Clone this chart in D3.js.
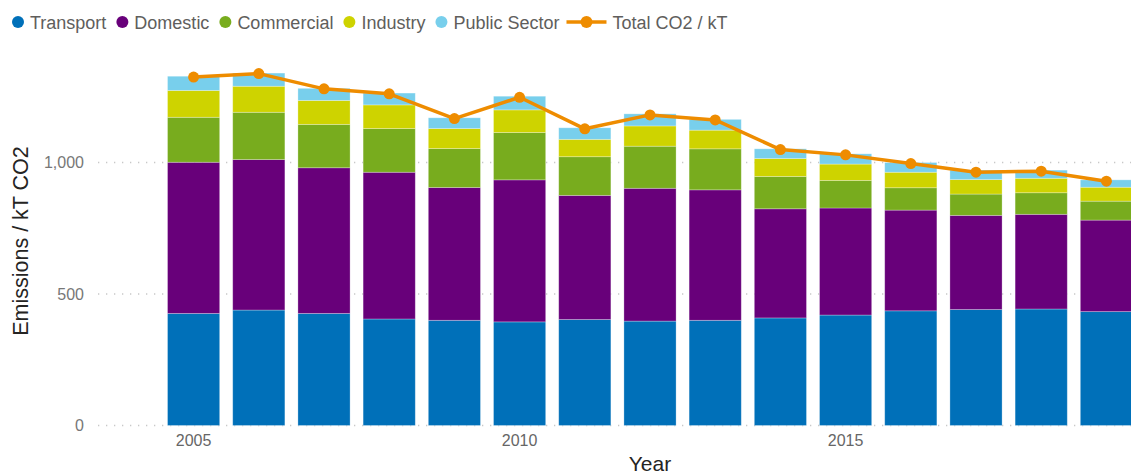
<!DOCTYPE html>
<html>
<head>
<meta charset="utf-8">
<script src="https://cdn.jsdelivr.net/npm/d3@7"></script>
<style>
  body { margin: 0; background: #fff; }
  text { font-family: "Liberation Sans", Arial, sans-serif; }
</style>
</head>
<body>
<div id="chart"></div>
<script>
// values, kT CO2
var years = [2005, 2006, 2007, 2008, 2009, 2010, 2011, 2012, 2013, 2014, 2015, 2016, 2017, 2018, 2019];
var transport = [426, 439, 426, 405, 400, 394, 403, 397, 400, 409, 420, 436, 441, 443, 433];
var domestic = [575, 572, 554, 558, 505, 540, 472, 505, 496, 415, 407, 383, 358, 360, 348];
var commercial = [171, 180, 165, 166, 148, 180, 147, 160, 156, 123, 105, 85, 81, 82, 72];
var industry = [102, 99, 91, 90, 76, 86, 66, 77, 71, 68, 62, 59, 55, 55, 53];
var publicSector = [54, 50, 46, 45, 41, 52, 44, 46, 41, 37, 39, 37, 36, 31, 28];
var totalCO2 = [1325, 1338, 1280, 1261, 1167, 1248, 1128, 1181, 1162, 1049, 1029, 996, 963, 967, 929];

var seriesNames = ["Transport", "Domestic", "Commercial", "Industry", "Public Sector"];
var seriesColors = ["#0070b9", "#68007a", "#78ac1e", "#ced300", "#78cfec"];
var lineName = "Total CO2 / kT";
var lineColor = "#ee8c00";
var yTicks = [0, 500, 1000];
var xTicks = [2005, 2010, 2015];

var W = 1131, H = 474;

var svg = d3.select("#chart").append("svg").attr("width", W).attr("height", H);

// build rows for the stack
var rows = years.map(function (yr, i) {
  return {
    year: yr,
    "Transport": transport[i],
    "Domestic": domestic[i],
    "Commercial": commercial[i],
    "Industry": industry[i],
    "Public Sector": publicSector[i]
  };
});
var stacked = d3.stack().keys(seriesNames)(rows);

var x = d3.scaleBand().domain(years).range([161, 1139]).paddingInner(0.2).paddingOuter(0.1);
var y = d3.scaleLinear().domain([0, 1400]).range([425.5, 425.5 - 1400 * 0.263]);

// gridlines
svg.append("g").selectAll("line").data(yTicks).enter().append("line")
  .attr("x1", 98).attr("x2", W)
  .attr("y1", function (d) { return y(d); })
  .attr("y2", function (d) { return y(d); })
  .attr("stroke", "#c8c8c8").attr("stroke-width", 1.3)
  .attr("stroke-dasharray", "1.3,6.7");

// y axis
var yAxis = svg.append("g").attr("transform", "translate(90,0)")
  .call(d3.axisLeft(y).tickValues(yTicks).tickFormat(d3.format(",")).tickSize(0).tickPadding(6));
yAxis.select(".domain").remove();
yAxis.selectAll("text").style("font-size", "16px").attr("fill", "#777");

// x axis
var xAxis = svg.append("g").attr("transform", "translate(0,426)")
  .call(d3.axisBottom(x).tickValues(xTicks).tickSize(0).tickPadding(9));
xAxis.select(".domain").remove();
xAxis.selectAll("text").style("font-size", "16px").attr("fill", "#666");

// bars
svg.append("g").selectAll("g").data(stacked).enter().append("g")
  .attr("fill", function (d, i) { return seriesColors[i]; })
  .selectAll("rect").data(function (d) { return d; }).enter().append("rect")
  .attr("x", function (d) { return x(d.data.year); })
  .attr("width", x.bandwidth())
  .attr("y", function (d) { return y(d[1]); })
  .attr("height", function (d) { return y(d[0]) - y(d[1]); })
  .attr("stroke", "#ffffff").attr("stroke-opacity", 0.35).attr("stroke-width", 0.8);

// total line
var line = d3.line()
  .x(function (d, i) { return x(years[i]) + x.bandwidth() / 2; })
  .y(function (d) { return y(d); });
svg.append("path").datum(totalCO2)
  .attr("d", line).attr("fill", "none")
  .attr("stroke", lineColor).attr("stroke-width", 3.5).attr("stroke-linejoin", "round");
svg.append("g").selectAll("circle").data(totalCO2).enter().append("circle")
  .attr("cx", function (d, i) { return x(years[i]) + x.bandwidth() / 2; })
  .attr("cy", function (d) { return y(d); })
  .attr("r", 5.5).attr("fill", lineColor);

// axis titles
svg.append("text").attr("transform", "translate(28,241) rotate(-90)")
  .attr("text-anchor", "middle").style("font-size", "21.5px").attr("fill", "#252423")
  .text("Emissions / kT CO2");
svg.append("text").attr("x", 650).attr("y", 471)
  .attr("text-anchor", "middle").style("font-size", "21px").attr("fill", "#252423")
  .text("Year");

// legend
var legend = svg.append("g");
var cx = 18, ly = 22;
seriesNames.forEach(function (name, i) {
  legend.append("circle").attr("cx", cx).attr("cy", ly).attr("r", 6).attr("fill", seriesColors[i]);
  var t = legend.append("text").attr("x", cx + 12).attr("y", ly + 6.5)
    .style("font-size", "18px").attr("fill", "#605e5c").text(name);
  cx = cx + 12 + t.node().getComputedTextLength() + 16;
});
var lx = cx - 16 + 7;
legend.append("line").attr("x1", lx).attr("x2", lx + 40).attr("y1", ly).attr("y2", ly)
  .attr("stroke", lineColor).attr("stroke-width", 3.5);
legend.append("circle").attr("cx", lx + 20).attr("cy", ly).attr("r", 6).attr("fill", lineColor);
legend.append("text").attr("x", lx + 46).attr("y", ly + 6.5)
  .style("font-size", "18px").attr("fill", "#605e5c").text(lineName);
</script>
</body>
</html>
